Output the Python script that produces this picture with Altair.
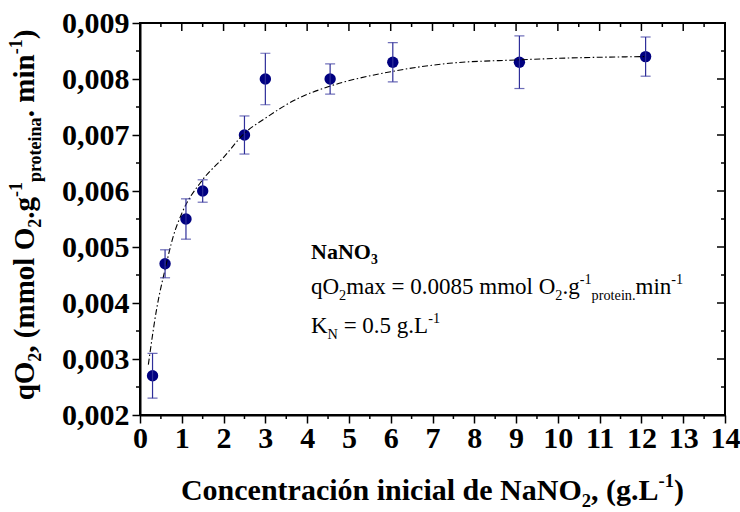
import altair as alt
import pandas as pd

# Measured specific O2 uptake vs. initial nitrate concentration
conc = [0.3, 0.6, 1.1, 1.5, 2.5, 3.0, 4.55, 6.05, 9.08, 12.1]
qo2 = [0.0027, 0.0047, 0.0055, 0.0060, 0.0070, 0.0080, 0.0080, 0.0083, 0.0083, 0.0084]
err = [0.0004, 0.00025, 0.00036, 0.0002, 0.00034, 0.00046, 0.00027, 0.00035, 0.00047, 0.00035]

# Fitted saturation curve
fit_x = [0.2, 0.4, 0.6, 0.8, 1.0, 1.5, 2.0, 2.5, 3.0, 3.8, 4.5, 6.0, 7.4, 9.0, 10.5, 12.1]
fit_y = [0.0029, 0.0039, 0.0046, 0.0052, 0.0056, 0.0062, 0.0066, 0.00703, 0.0073,
         0.00766, 0.00786, 0.00813, 0.00828, 0.00834, 0.00838, 0.0084]

# Axis ticks
x_major = list(range(0, 15))
x_minor = [0.5, 1.5, 2.5, 3.5, 4.5, 5.5, 6.5, 7.5, 8.5, 9.5, 10.5, 11.5, 12.5, 13.5]
y_major = [0.002, 0.003, 0.004, 0.005, 0.006, 0.007, 0.008, 0.009]
y_minor = [0.0025, 0.0035, 0.0045, 0.0055, 0.0065, 0.0075, 0.0085]

W, H = 585, 392
FONT = "Liberation Serif"
PT_COLOR = "#000080"
BAR_COLOR = "#2f2f9a"

pts = pd.DataFrame({"x": conc, "y": qo2,
                    "lo": [a - b for a, b in zip(qo2, err)],
                    "hi": [a + b for a, b in zip(qo2, err)]})
fit = pd.DataFrame({"x": fit_x, "y": fit_y})

xs = alt.Scale(domain=[0, 14], nice=False)
ys = alt.Scale(domain=[0.002, 0.009], nice=False)

x_axis = alt.Axis(
    values=x_major, format="d", title=None, grid=False,
    labelFont=FONT, labelFontWeight="bold", labelFontSize=30, labelColor="black",
    labelPadding=0, tickSize=8, tickWidth=1.5, tickColor="black",
    domainColor="black", domainWidth=2, labelFlush=False)
y_axis = alt.Axis(
    values=y_major, title=None, grid=False,
    labelExpr="replace(format(datum.value, '.3f'), '.', ',')",
    labelFont=FONT, labelFontWeight="bold", labelFontSize=30, labelColor="black",
    labelPadding=3, tickSize=8, tickWidth=1.5, tickColor="black",
    domainColor="black", domainWidth=2, labelFlush=False)


def X(field):
    return alt.X(field, type="quantitative", scale=xs, axis=x_axis)


def Y(field):
    return alt.Y(field, type="quantitative", scale=ys, axis=y_axis)


points = alt.Chart(pts).mark_circle(size=130, color=PT_COLOR, opacity=1).encode(
    x=X("x"), y=Y("y"))

bars = alt.Chart(pts).mark_rule(color=BAR_COLOR, strokeWidth=1.2).encode(
    x=X("x"), y=Y("lo"), y2="hi")
cap_lo = alt.Chart(pts).mark_tick(color=BAR_COLOR, size=10, thickness=1.2, orient="horizontal").encode(
    x=X("x"), y=Y("lo"))
cap_hi = alt.Chart(pts).mark_tick(color=BAR_COLOR, size=10, thickness=1.2, orient="horizontal").encode(
    x=X("x"), y=Y("hi"))

curve = alt.Chart(fit).mark_line(color="black", strokeWidth=1.1,
                                  strokeDash=[6, 2.5, 1.5, 2.5], interpolate="monotone").encode(
    x=X("x"), y=Y("y"))


def xticks(vals, y0, y1):
    d = pd.DataFrame({"v": vals})
    return alt.Chart(d).mark_rule(color="black", strokeWidth=1.5).encode(
        x=X("v"), y=alt.value(y0), y2=alt.value(y1))


def yticks(vals, x0, x1):
    d = pd.DataFrame({"v": vals})
    return alt.Chart(d).mark_rule(color="black", strokeWidth=1.5).encode(
        y=Y("v"), x=alt.value(x0), x2=alt.value(x1))


tick_layers = [
    xticks(x_minor, H, H + 4),
    xticks(x_major, 0, 8), xticks(x_minor, 0, 4),
    yticks(y_minor, 0, -4),
    yticks(y_major, W, W - 8), yticks(y_minor, W, W - 4),
]

# Times-compatible advance widths (1/1000 em) for composing sub/superscripts
REG = {" ": 250, "(": 333, ")": 333, ",": 250, "-": 333, ".": 250, "=": 564,
       "K": 722, "L": 611, "N": 722, "O": 722, "a": 444, "e": 444, "g": 500,
       "i": 278, "l": 278, "m": 778, "n": 500, "o": 500, "p": 500, "q": 500,
       "r": 333, "t": 278, "x": 500}
BOLD = {" ": 250, "(": 333, ")": 333, ",": 250, "-": 333, ".": 250, "C": 722,
        "L": 667, "N": 722, "O": 778, "a": 500, "c": 444, "d": 556, "e": 444,
        "g": 500, "i": 278, "l": 278, "m": 833, "n": 556, "o": 500, "p": 556,
        "q": 556, "r": 444, "t": 333, "ó": 500}


def text_width(s, bold):
    table = BOLD if bold else REG
    return sum(table.get(c, 500) for c in s) / 1000.0


one = pd.DataFrame({"k": [0]})


def rich(segs, x0, y0, size, bold, angle=0):
    """Lay out text runs one after another, with sub/superscript runs shifted and shrunk."""
    layers = []
    pos = 0.0
    for txt, kind in segs:
        fs = size if kind == "n" else size * 0.62
        lead = len(txt) - len(txt.lstrip(" "))
        pos += lead * text_width(" ", bold) * fs
        body = txt.strip(" ")
        shift = {"n": 0.0, "sub": 0.24 * size, "sup": -0.42 * size}[kind]
        if angle == 0:
            px, py = x0 + pos, y0 + shift
        else:
            px, py = x0 + shift, y0 - pos
        layers.append(alt.Chart(one).mark_text(
            text=body, align="left", baseline="alphabetic", angle=angle,
            font=FONT, fontSize=fs, fontWeight="bold" if bold else "normal",
            color="black").encode(x=alt.value(px), y=alt.value(py)))
        pos += text_width(txt.lstrip(" "), bold) * fs
    return layers


def rich_width(segs, size, bold):
    return sum(text_width(t, bold) * (size if k == "n" else size * 0.62) for t, k in segs)


x_title = [("Concentración inicial de NaNO", "n"), ("2", "sub"), (", (g.L", "n"),
           ("-1", "sup"), (")", "n")]
xt_size = 30
xt_w = rich_width(x_title, xt_size, True)
x_title_layers = rich(x_title, W / 2 - xt_w / 2, H + 85, xt_size, True)

y_title = [("qO", "n"), ("2", "sub"), (", (mmol O", "n"), ("2", "sub"), (".g", "n"),
           ("-1", "sup"), ("proteina", "sub"), (". min", "n"), ("-1", "sup"), (")", "n")]
yt_size = 29
yt_w = rich_width(y_title, yt_size, True)
y_title_layers = rich(y_title, -106, H / 2 + yt_w / 2 - 4, yt_size, True, angle=270)

ann1 = [("NaNO", "n"), ("3", "sub")]
ann2 = [("qO", "n"), ("2", "sub"), ("max = 0.0085 mmol O", "n"), ("2", "sub"), (".g", "n"),
        ("-1", "sup"), ("protein.", "sub"), ("min", "n"), ("-1", "sup")]
ann3 = [("K", "n"), ("N", "sub"), (" = 0.5 g.L", "n"), ("-1", "sup")]
ann_layers = (rich(ann1, 171, 236, 22, True)
              + rich(ann2, 171, 271, 23, False)
              + rich(ann3, 171, 310, 23, False))

chart = alt.layer(
    points, curve, bars, cap_lo, cap_hi, *tick_layers,
    *x_title_layers, *y_title_layers, *ann_layers
).properties(
    width=W, height=H,
    autosize=alt.AutoSizeParams(type="none"),
    padding={"left": 140, "top": 23, "right": 15, "bottom": 97},
    background="white",
).configure_view(stroke="black", strokeWidth=2)

chart.save("out.html", embed_options={"renderer": "svg", "actions": False})
